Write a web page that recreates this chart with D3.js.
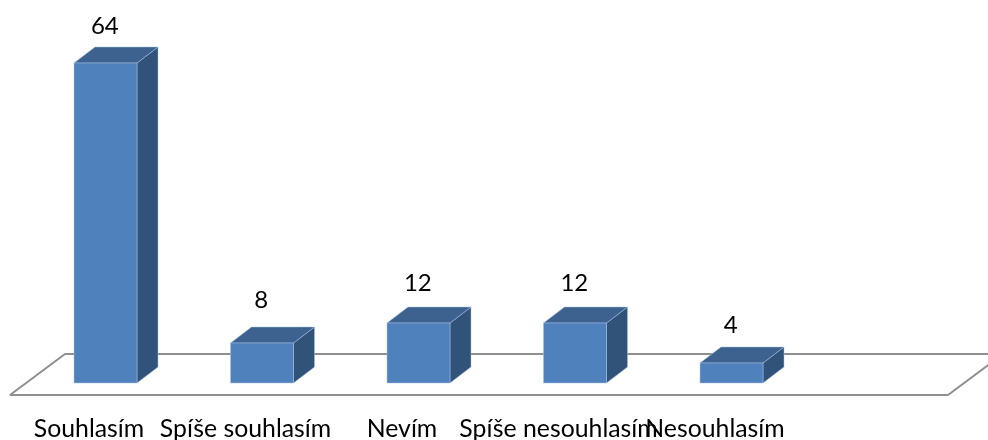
<!DOCTYPE html>
<html><head><meta charset="utf-8">
<script src="https://cdn.jsdelivr.net/npm/d3@7/dist/d3.min.js"></script>
<style>
html,body{margin:0;padding:0;background:#fff;overflow:hidden}
text{font-family:Lato,"Open Sans",sans-serif;fill:#000}
</style></head><body>
<svg id="c" width="988" height="440"></svg>
<script>
const categories = ["Souhlasím","Spíše souhlasím","Nevím","Spíše nesouhlasím","Nesouhlasím"];
const values = [64,8,12,12,4];

const svg = d3.select("#c");
const defs = svg.append("defs");
defs.append("filter").attr("id","soft")
  .attr("filterUnits","userSpaceOnUse").attr("x",0).attr("y",0).attr("width",988).attr("height",440)
  .append("feGaussianBlur").attr("stdDeviation",0.35);
const root = svg.append("g").attr("filter","url(#soft)");

const baseY = 383, pxPerUnit = 5, depthX = 21, depthY = 16, barW = 63;
const y = d3.scaleLinear().domain([0,64]).range([baseY, baseY-64*pxPerUnit]);
const x = d3.scalePoint().domain(categories).range([74, 700]);
const labelGap = [29.5,35,32,32,30];

// floor
const floorFront = 395, floorBack = 354;
root.append("path")
  .attr("d", `M988,${floorBack}L65,${floorBack}L10,${floorFront}L948,${floorFront}L1003,${floorBack}`)
  .attr("fill","none").attr("stroke","#8f8f8f").attr("stroke-width",2).attr("stroke-linejoin","bevel");

const bars = root.selectAll("g.bar").data(categories.map((c,i)=>({c,v:values[i],i}))).join("g").attr("class","bar");
const edge = "#a9c3e2";
// side
bars.append("path").attr("fill","#325379").attr("stroke",edge).attr("stroke-width",.5)
  .attr("d",d=>{const l=x(d.c)+barW,t=y(d.v);
    return `M${l},${t}L${l+depthX},${t-depthY}L${l+depthX},${baseY-depthY}L${l},${baseY}Z`;});
// top
bars.append("path").attr("fill","#3c628f").attr("stroke",edge).attr("stroke-width",.5)
  .attr("d",d=>{const l=x(d.c),t=y(d.v);
    return `M${l},${t}L${l+depthX},${t-depthY}L${l+barW+depthX},${t-depthY}L${l+barW},${t}Z`;});
// front
bars.append("rect").attr("fill","#4f81bd").attr("stroke",edge).attr("stroke-width",.5)
  .attr("x",d=>x(d.c)).attr("y",d=>y(d.v)).attr("width",barW).attr("height",d=>baseY-y(d.v));

// value labels
bars.append("text").attr("text-anchor","middle").attr("font-size",24)
  .attr("x",d=>x(d.c)+barW/2-0.7).attr("y",d=>y(d.v)-labelGap[d.i]).text(d=>d.v);

// category labels
root.selectAll("text.cat").data(categories).join("text").attr("class","cat")
  .attr("text-anchor","middle").attr("font-size",24.8)
  .attr("x",d=>x(d)+barW/2-16.5).attr("y",437).text(d=>d);
</script>
</body></html>
